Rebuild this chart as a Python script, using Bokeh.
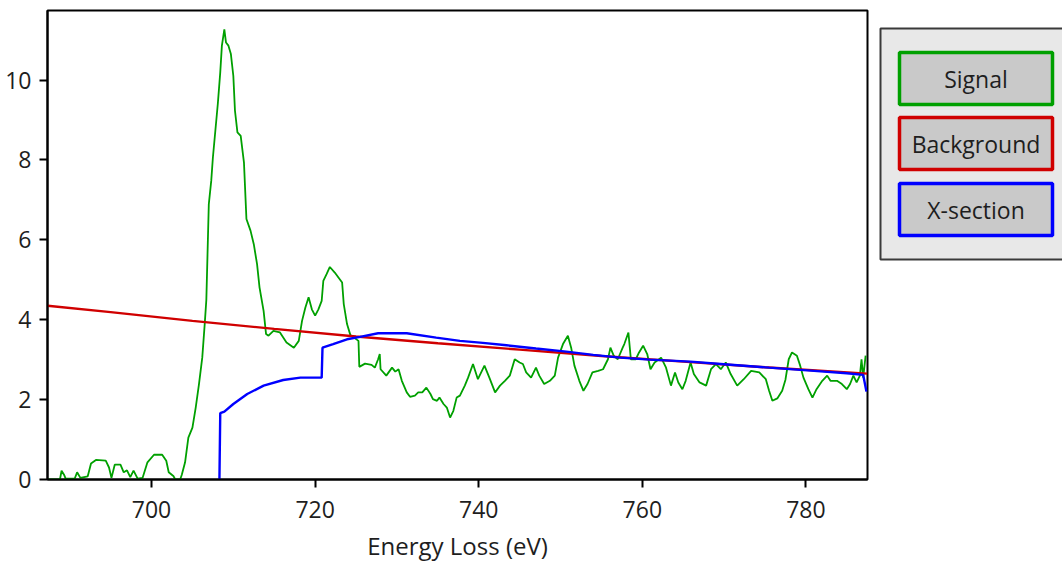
from bokeh.plotting import figure
from bokeh.layouts import row
from bokeh.models import Range1d, FixedTicker
from bokeh.core.properties import value
from bokeh.embed import file_html
from bokeh.resources import INLINE

# ---------------- data ----------------
series_names = ["Signal", "Background", "X-section"]
series_colors = ["#00a000", "#d00000", "#0000ff"]

signal_x = [687.3, 688.8, 689.0, 689.3, 689.5, 690.6, 690.9, 691.3, 692.2, 692.6,
            693.2, 694.4, 694.8, 695.1, 695.5, 696.2, 696.6, 697.0, 697.4, 697.8,
            698.3, 698.9, 699.5, 700.3, 701.3, 701.8, 702.1, 702.7, 702.9, 703.5,
            703.7, 704.1, 704.5, 705.0, 705.4, 705.8, 706.2, 706.5, 706.7, 707.0,
            707.3, 707.5, 707.8, 708.1, 708.4, 708.6, 708.9, 709.1, 709.4, 709.7,
            710.0, 710.2, 710.5, 710.9, 711.3, 711.6, 712.1, 712.5, 712.9, 713.2,
            713.7, 714.0, 714.3, 714.9, 715.7, 716.5, 717.4, 718.0, 718.4, 718.8,
            719.2, 719.6, 720.0, 720.4, 720.8, 721.0, 721.4, 721.8, 722.4, 723.3,
            723.5, 723.9, 724.3, 725.3, 725.4, 726.1, 726.9, 727.3, 727.7, 727.9,
            728.0, 728.7, 729.4, 729.8, 730.2, 730.6, 731.2, 731.6, 732.2, 732.6,
            733.1, 733.6, 734.1, 734.4, 734.9, 735.2, 735.7, 736.1, 736.5, 736.9,
            737.3, 737.7, 738.3, 738.7, 739.3, 739.9, 740.7, 741.3, 742.0, 742.6,
            743.2, 743.8, 744.4, 745.0, 745.4, 745.8, 746.4, 747.0, 747.4, 748.0,
            748.7, 749.3, 749.7, 750.3, 750.9, 751.3, 751.7, 752.3, 752.8, 753.3,
            753.9, 754.6, 755.2, 755.8, 756.1, 756.5, 757.0, 757.6, 757.8, 758.3,
            758.6, 759.2, 759.6, 760.1, 760.6, 761.0, 761.5, 762.3, 762.9, 763.5,
            764.0, 764.4, 764.9, 765.3, 765.9, 766.3, 767.0, 767.8, 768.4, 769.0,
            769.6, 770.2, 770.8, 771.6, 772.4, 773.3, 774.3, 775.1, 775.5, 775.9,
            776.5, 777.1, 777.5, 777.9, 778.3, 778.9, 779.3, 779.7, 780.3, 780.8,
            781.3, 782.0, 782.6, 783.0, 783.8, 784.4, 785.0, 785.4, 785.8, 786.2,
            786.6, 786.8, 787.0, 787.3]
signal_y = [0.0, 0.0, 0.22, 0.12, 0.02, 0.02, 0.18, 0.04, 0.08, 0.40,
            0.49, 0.47, 0.30, 0.04, 0.37, 0.37, 0.18, 0.23, 0.06, 0.22,
            0.02, 0.04, 0.43, 0.62, 0.62, 0.47, 0.18, 0.08, 0.0, 0.0,
            0.12, 0.43, 1.05, 1.30, 1.80, 2.39, 3.05, 3.89, 4.50, 6.89,
            7.48, 8.06, 8.73, 9.40, 10.19, 10.86, 11.27, 10.94, 10.86, 10.65,
            10.10, 9.23, 8.69, 8.60, 7.93, 6.52, 6.23, 5.89, 5.39, 4.81,
            4.22, 3.64, 3.60, 3.72, 3.68, 3.43, 3.30, 3.47, 3.97, 4.30,
            4.56, 4.26, 4.10, 4.26, 4.47, 4.97, 5.14, 5.32, 5.18, 4.93,
            4.39, 3.89, 3.62, 3.47, 2.82, 2.90, 2.87, 2.80, 3.01, 3.14,
            2.76, 2.60, 2.80, 2.70, 2.76, 2.47, 2.18, 2.07, 2.10, 2.18,
            2.18, 2.30, 2.14, 2.01, 1.97, 2.05, 1.89, 1.80, 1.55, 1.72,
            2.05, 2.10, 2.35, 2.55, 2.89, 2.51, 2.85, 2.55, 2.18, 2.35,
            2.47, 2.60, 3.01, 2.93, 2.89, 2.68, 2.55, 2.80, 2.60, 2.39,
            2.47, 2.60, 3.05, 3.39, 3.60, 3.30, 2.85, 2.47, 2.22, 2.39,
            2.68, 2.72, 2.76, 3.01, 3.30, 3.10, 3.01, 3.30, 3.39, 3.68,
            3.01, 3.01, 3.18, 3.35, 3.14, 2.76, 2.93, 3.05, 2.80, 2.35,
            2.68, 2.43, 2.26, 2.47, 2.93, 2.64, 2.43, 2.35, 2.76, 2.89,
            2.76, 2.93, 2.64, 2.35, 2.51, 2.72, 2.68, 2.51, 2.22, 1.97,
            2.03, 2.22, 2.50, 3.01, 3.18, 3.10, 2.85, 2.55, 2.26, 2.05,
            2.26, 2.47, 2.60, 2.47, 2.47, 2.39, 2.26, 2.39, 2.60, 2.43,
            2.60, 3.01, 2.55, 3.10]

background_x = [687.3, 695.0, 705.0, 715.0, 725.0, 735.0, 745.0, 755.0, 765.0, 775.0, 787.5]
background_y = [4.35, 4.19, 3.97, 3.77, 3.58, 3.41, 3.25, 3.09, 2.95, 2.81, 2.65]

xsection_x = [708.3, 708.4, 708.9, 710.0, 711.7, 713.7, 716.1, 718.2, 720.8, 720.9,
              722.2, 723.9, 725.5, 727.7, 731.2, 734.8, 737.7, 740.5, 743.4, 747.0,
              750.7, 754.0, 757.3, 760.9, 765.9, 770.4, 775.5, 781.0, 785.0, 787.0,
              787.4]
xsection_y = [0.0, 1.66, 1.70, 1.89, 2.14, 2.35, 2.49, 2.55, 2.55, 3.30,
              3.39, 3.51, 3.57, 3.66, 3.66, 3.55, 3.47, 3.42, 3.36, 3.28,
              3.20, 3.12, 3.05, 3.00, 2.95, 2.88, 2.80, 2.72, 2.66, 2.62,
              2.20]

x_ticks = [700, 720, 740, 760, 780]
y_ticks = [0, 2, 4, 6, 8, 10]
x_label = "Energy Loss (eV)"

FONT = "Open Sans"
TXT = "#1e1e1e"

# ---------------- main plot ----------------
p = figure(frame_width=820, frame_height=469,
           x_range=Range1d(687.28, 787.53), y_range=Range1d(0, 11.74),
           output_backend="svg", toolbar_location=None,
           min_border_left=47, min_border_right=5, min_border_top=10, min_border_bottom=60,
           background_fill_color="white", border_fill_color="white")
p.xgrid.visible = False
p.ygrid.visible = False
p.outline_line_color = "black"
p.outline_line_width = 2

for ax in (p.xaxis[0], p.yaxis[0]):
    ax.axis_line_color = "black"
    ax.axis_line_width = 2
    ax.major_tick_line_color = "black"
    ax.major_tick_line_width = 2
    ax.major_tick_in = 0
    ax.major_tick_out = 8
    ax.minor_tick_line_color = None
    ax.major_label_text_font = FONT
    ax.major_label_text_font_size = "23px"
    ax.major_label_text_color = TXT

p.xaxis[0].ticker = FixedTicker(ticks=x_ticks)
p.yaxis[0].ticker = FixedTicker(ticks=y_ticks)
p.xaxis[0].major_label_standoff = 13
p.yaxis[0].major_label_standoff = 8
p.xaxis[0].axis_label = x_label
p.xaxis[0].axis_label_text_font = FONT
p.xaxis[0].axis_label_text_font_size = "24px"
p.xaxis[0].axis_label_text_font_style = "normal"
p.xaxis[0].axis_label_text_color = TXT
p.xaxis[0].axis_label_standoff = 8

p.line(signal_x, signal_y, line_color=series_colors[0], line_width=1.8)
p.line(background_x, background_y, line_color=series_colors[1], line_width=2.4)
p.line(xsection_x, xsection_y, line_color=series_colors[2], line_width=2.4)

# ---------------- legend panel ----------------
lg = figure(frame_width=190, frame_height=556,
            x_range=Range1d(0, 190), y_range=Range1d(556, 0),
            x_axis_type=None, y_axis_type=None,
            output_backend="svg", toolbar_location=None,
            min_border_left=0, min_border_right=0, min_border_top=0, min_border_bottom=0,
            background_fill_color="white", border_fill_color="white")
lg.outline_line_color = None
lg.xgrid.visible = False
lg.ygrid.visible = False

lg.quad(left=[8], right=[200], top=[18], bottom=[249],
        fill_color="#e8e8e8", line_color="#3a3a3a", line_width=2)

item_tops = [42, 107, 173]
item_h = 52
lg.quad(left=[27] * 3, right=[180] * 3,
        top=item_tops, bottom=[t + item_h for t in item_tops],
        fill_color="#c9c9c9", line_color=series_colors, line_width=3.5)
lg.text(x=[103.5] * 3, y=[t + item_h / 2 for t in item_tops], text=series_names,
        text_align="center", text_baseline="middle",
        text_font=value(FONT), text_font_size=value("23px"), text_color=TXT)

layout = row(p, lg)
open("out.html", "w").write(file_html(layout, INLINE))
